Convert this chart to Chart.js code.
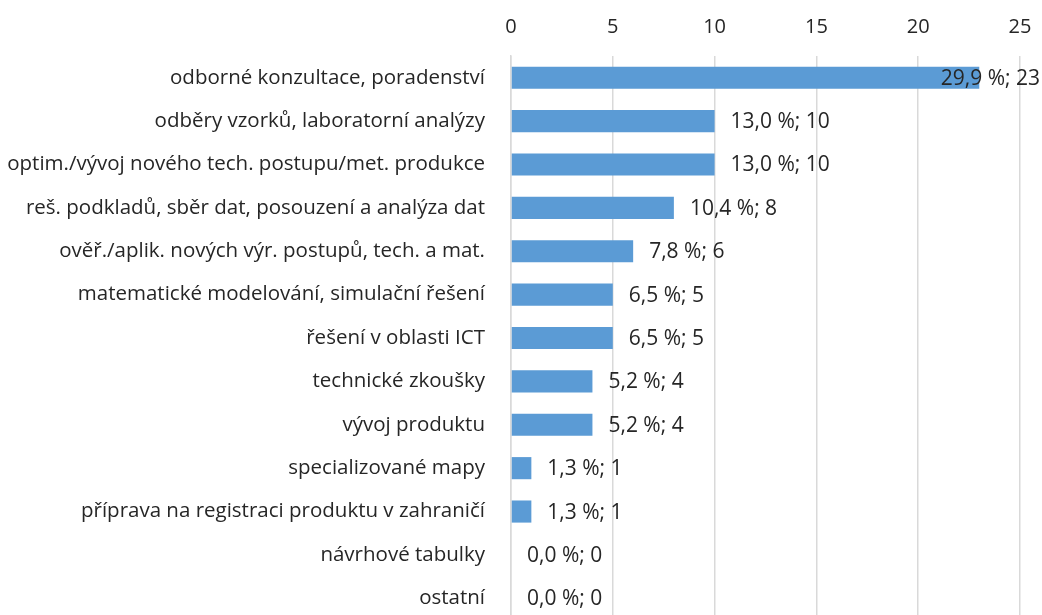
<!DOCTYPE html>
<html>
<head>
<meta charset="utf-8">
<script src="https://cdn.jsdelivr.net/npm/chart.js@4"></script>
<style>
  html, body { margin: 0; padding: 0; background: #fff; overflow: hidden; }
</style>
</head>
<body>
<canvas id="myChart" width="1042" height="620"></canvas>
<script>
const categories = [
  'odborné konzultace, poradenství',
  'odběry vzorků, laboratorní analýzy',
  'optim./vývoj nového tech. postupu/met. produkce',
  'reš. podkladů, sběr dat, posouzení a analýza dat',
  'ověř./aplik. nových výr. postupů, tech. a mat.',
  'matematické modelování, simulační řešení',
  'řešení v oblasti ICT',
  'technické zkoušky',
  'vývoj produktu',
  'specializované mapy',
  'příprava na registraci produktu v zahraničí',
  'návrhové tabulky',
  'ostatní'
]
const counts = [23, 10, 10, 8, 6, 5, 5, 4, 4, 1, 1, 0, 0]
const percents = ['29,9', '13,0', '13,0', '10,4', '7,8', '6,5', '6,5', '5,2', '5,2', '1,3', '1,3', '0,0', '0,0']
const xTicks = [0, 5, 10, 15, 20, 25]

const FONT = 'Open Sans'
const TEXT = '#262626'

// labels "29,9 %; 23" next to the bar ends
const barLabels = {
  id: 'barLabels',
  afterDatasetsDraw(chart) {
    const ctx = chart.ctx
    const meta = chart.getDatasetMeta(0)
    ctx.save()
    ctx.font = '21px ' + FONT
    ctx.fillStyle = TEXT
    ctx.textBaseline = 'middle'
    meta.data.forEach((bar, i) => {
      const txt = percents[i] + ' %; ' + counts[i]
      const w = ctx.measureText(txt).width
      let x = bar.x + 16
      if (x + w > chart.width - 2) x = chart.width - 2 - w
      ctx.fillText(txt, x, bar.y + 1)
    })
    ctx.restore()
  }
}

const data = {
  labels: categories,
  datasets: [{
    data: counts,
    backgroundColor: '#5b9bd5',
    barPercentage: 0.51,
    categoryPercentage: 1.0
  }]
}

const config = {
  type: 'bar',
  data: data,
  options: {
    indexAxis: 'y',
    responsive: false,
    animation: false,
    layout: { padding: { left: 0, right: 22, top: 0, bottom: 0 } },
    plugins: {
      legend: { display: false },
      tooltip: { enabled: false }
    },
    scales: {
      x: {
        position: 'top',
        min: 0,
        max: 25,
        afterBuildTicks(scale) { scale.ticks = xTicks.map(v => ({ value: v })) },
        afterFit(scale) {
          scale.height = 56
          scale.paddingLeft = 0
          scale.paddingRight = 0
        },
        grid: { color: '#d9d9d9', lineWidth: 1.5, drawTicks: false },
        border: { display: false },
        ticks: { color: TEXT, font: { family: FONT, size: 20 }, padding: 17 }
      },
      y: {
        afterFit(scale) {
          scale.width = 511
          scale.paddingTop = 0
          scale.paddingBottom = 0
        },
        grid: { display: false },
        border: { display: true, color: '#d9d9d9', width: 1.5 },
        ticks: { color: TEXT, font: { family: FONT, size: 20.5 }, padding: 18 }
      }
    }
  },
  plugins: [barLabels]
}

const myChart = new Chart(document.getElementById('myChart'), config)
</script>
</body>
</html>
